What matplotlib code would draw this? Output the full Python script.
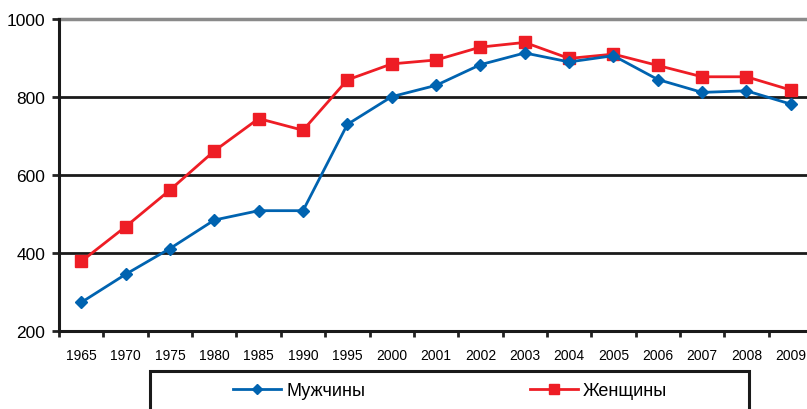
import matplotlib
matplotlib.use("Agg")
import matplotlib.pyplot as plt
from matplotlib.patches import Rectangle
import numpy as np

plt.rcParams['font.family'] = ['Liberation Sans', 'DejaVu Sans']

years = ['1965', '1970', '1975', '1980', '1985', '1990', '1995', '2000', '2001',
         '2002', '2003', '2004', '2005', '2006', '2007', '2008', '2009']
men = [274, 346, 412, 485, 509, 509, 730, 801, 830, 883, 913, 890, 906, 845, 812, 816, 782]
women = [379, 468, 562, 662, 745, 715, 844, 885, 895, 928, 940, 899, 910, 881, 852, 852, 818]
yticks = [200, 400, 600, 800, 1000]

W, H = 807, 410
fig = plt.figure(figsize=(W / 100, H / 100), dpi=100)
left, right, bottom, top = 59.1, 813.0, 332.3, 20.0
ax = fig.add_axes([left / W, 1 - bottom / H, (right - left) / W, (bottom - top) / H])

x = np.arange(len(years))
blue = '#0063B0'
red = '#EE1D25'
l1, = ax.plot(x, men, color=blue, lw=2.0, marker='D', ms=6.5, mec=blue, mfc=blue,
              label='Мужчины', zorder=4)
l2, = ax.plot(x, women, color=red, lw=2.0, marker='s', ms=8, mec=red, mfc=red,
              label='Женщины', zorder=3)

ax.set_xlim(-0.5, len(years) - 0.5)
ax.set_ylim(200, 1000)
ax.set_yticks(yticks)
ax.set_yticklabels([str(v) for v in yticks], fontsize=12.5)
ax.set_xticks(x)
ax.set_xticklabels(years, fontsize=10)
ax.set_xticks(np.arange(len(years) + 1) - 0.5, minor=True)
ax.tick_params(axis='x', which='major', length=0, pad=12, colors='#000000')
ax.tick_params(axis='x', which='minor', length=4, width=2, direction='out', color='#222222')
ax.tick_params(axis='y', which='major', length=5, width=2, direction='out', pad=5, color='#222222')

for v in [400, 600, 800]:
    ax.axhline(v, color='#1a1a1a', lw=2.0, zorder=1)
ax.axhline(1000, color='#8a8a8a', lw=2.5, zorder=1, clip_on=False)

for s in ['top', 'right']:
    ax.spines[s].set_visible(False)
for s in ['left', 'bottom']:
    ax.spines[s].set_color('#1a1a1a')
    ax.spines[s].set_linewidth(2.2)

# legend frame
fig.patches.append(Rectangle((150 / W, -0.2), (749 - 150) / W, 0.2 + 1 - 371.5 / H,
                             transform=fig.transFigure, fill=False, ec='#1a1a1a', lw=2.2))
fs = 13
em = fs * 100 / 72
fig.legend(handles=[l1, l2], loc='center left', bbox_to_anchor=(233 / W, 1 - 392 / H),
           ncol=2, frameon=False, fontsize=fs, borderpad=0, borderaxespad=0,
           handlelength=48 / em, handletextpad=5 / em, columnspacing=165 / em,
           markerscale=0.85)

fig.savefig('out.png', dpi=100)
